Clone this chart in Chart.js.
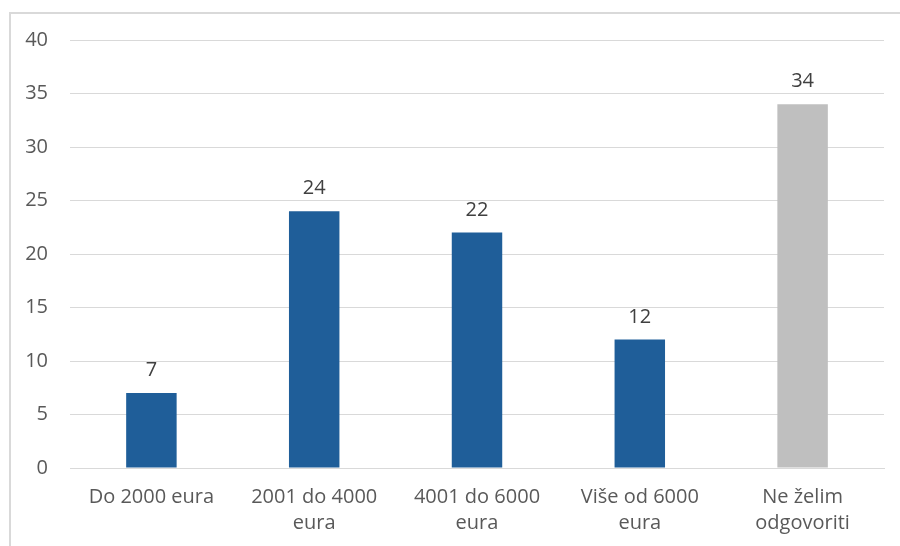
<!DOCTYPE html>
<html>
<head>
<meta charset="utf-8">
<script src="https://cdn.jsdelivr.net/npm/chart.js@4/dist/chart.umd.min.js"></script>
<style>
  html, body { margin: 0; padding: 0; background: #ffffff; }
  #wrap { width: 900px; height: 546px; position: relative; }
</style>
</head>
<body>
<div id="wrap"><canvas id="c"></canvas></div>
<script>
// Income groups and number of respondents per group
const categories = [
  ['Do 2000 eura'],
  ['2001 do 4000', 'eura'],
  ['4001 do 6000', 'eura'],
  ['Više od 6000', 'eura'],
  ['Ne želim', 'odgovoriti']
];
const respondents = [7, 24, 22, 12, 34];
const barColors = ['#1F5E99', '#1F5E99', '#1F5E99', '#1F5E99', '#BFBFBF'];
const yTicks = [0, 5, 10, 15, 20, 25, 30, 35, 40];

const FONT = "'Open Sans', 'Liberation Sans', sans-serif";

// Thin frame on the left and top edges of the canvas
const framePlugin = {
  id: 'frame',
  beforeDraw(chart) {
    const ctx = chart.ctx;
    ctx.save();
    ctx.strokeStyle = '#D9D9D9';
    ctx.lineWidth = 2;
    ctx.beginPath();
    ctx.moveTo(10, chart.height);
    ctx.lineTo(10, 13);
    ctx.lineTo(chart.width, 13);
    ctx.stroke();
    ctx.restore();
  }
};

// Value written above each bar
const valueLabels = {
  id: 'valueLabels',
  afterDatasetsDraw(chart) {
    const ctx = chart.ctx;
    const meta = chart.getDatasetMeta(0);
    const data = chart.data.datasets[0].data;
    ctx.save();
    ctx.font = '20px ' + FONT;
    ctx.fillStyle = '#404040';
    ctx.textAlign = 'center';
    ctx.textBaseline = 'alphabetic';
    meta.data.forEach((bar, i) => {
      ctx.fillText(String(data[i]), bar.x, bar.y - 17);
    });
    ctx.restore();
  }
};

new Chart(document.getElementById('c'), {
  type: 'bar',
  data: {
    labels: categories,
    datasets: [{
      data: respondents,
      backgroundColor: barColors,
      borderWidth: 0,
      categoryPercentage: 1,
      barPercentage: 0.31
    }]
  },
  options: {
    responsive: true,
    maintainAspectRatio: false,
    animation: false,
    devicePixelRatio: 1,
    layout: { padding: { left: 10, right: 16, top: 40, bottom: 0 } },
    plugins: {
      legend: { display: false },
      tooltip: { enabled: false }
    },
    scales: {
      x: {
        grid: { display: false, drawTicks: false },
        border: { display: true, color: '#D9D9D9', width: 1 },
        ticks: {
          color: '#595959',
          font: { family: FONT, size: 20, lineHeight: 1.3 },
          padding: 16,
          maxRotation: 0,
          autoSkip: false
        },
        afterFit(scale) { scale.height = 78; }
      },
      y: {
        min: 0,
        max: 40,
        afterBuildTicks(scale) { scale.ticks = yTicks.map(v => ({ value: v })); },
        grid: { color: '#D9D9D9', drawTicks: false },
        border: { display: false },
        ticks: {
          color: '#595959',
          font: { family: FONT, size: 20 },
          padding: 22
        },
        afterFit(scale) { scale.width = 60; }
      }
    }
  },
  plugins: [framePlugin, valueLabels]
});
</script>
</body>
</html>
